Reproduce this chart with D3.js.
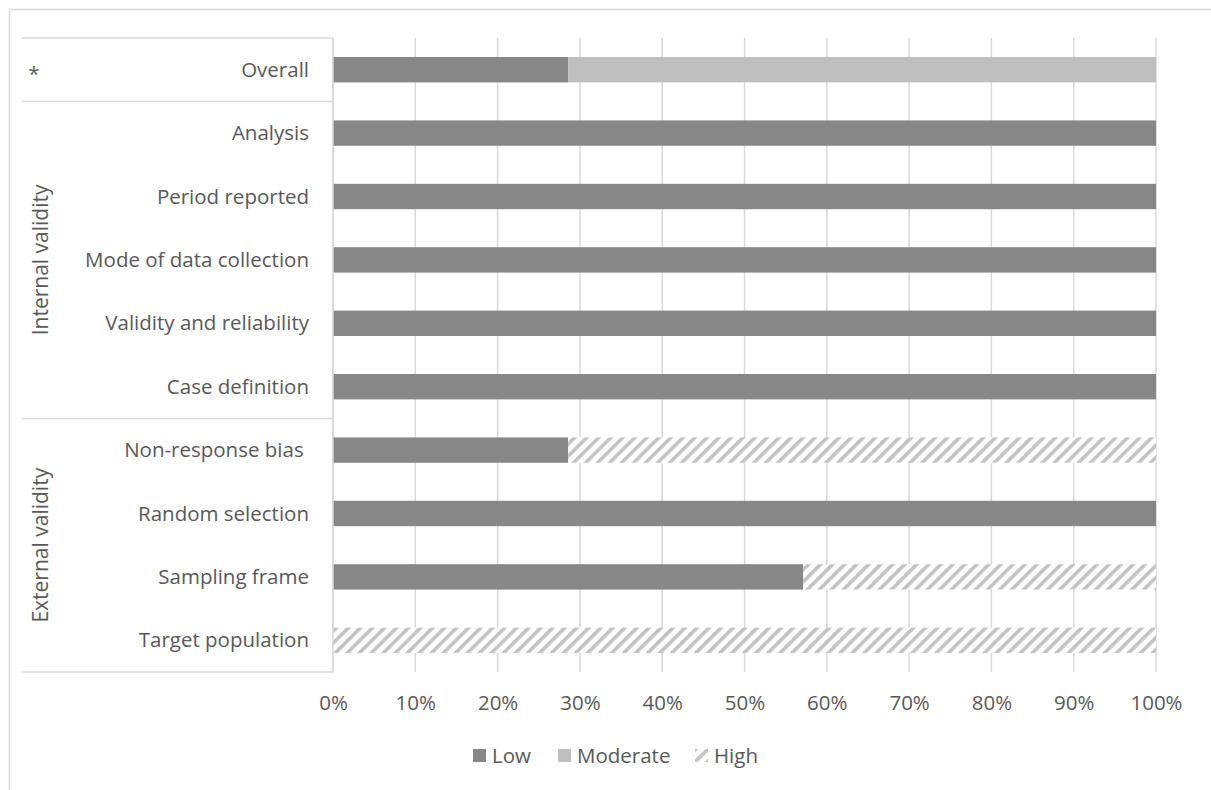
<!DOCTYPE html>
<html>
<head>
<meta charset="utf-8">
<script src="https://cdn.jsdelivr.net/npm/d3@7"></script>
<style>
  html, body { margin: 0; padding: 0; background: #fff; }
  svg text { font-family: "Open Sans", "Noto Sans", sans-serif; fill: #595959; }
</style>
</head>
<body>
<svg id="chart" width="1211" height="790"></svg>
<script>
// ---- data ----
const categories = ["Overall", "Analysis", "Period reported", "Mode of data collection",
  "Validity and reliability", "Case definition", "Non-response bias ", "Random selection",
  "Sampling frame", "Target population"];
const seriesNames = ["Low", "Moderate", "High"];
const lowValues      = [28.57, 100, 100, 100, 100, 100, 28.57, 100, 57.14, 0];
const moderateValues = [71.43, 0, 0, 0, 0, 0, 0, 0, 0, 0];
const highValues     = [0, 0, 0, 0, 0, 0, 71.43, 0, 42.86, 100];
const xTicks = [0, 10, 20, 30, 40, 50, 60, 70, 80, 90, 100];
const groups = [
  { label: "*", from: "Overall", to: "Overall" },
  { label: "Internal validity", from: "Analysis", to: "Case definition" },
  { label: "External validity", from: "Non-response bias ", to: "Target population" }
];

// ---- layout ----
const svg = d3.select("#chart");
const plot = { left: 333, right: 1156, top: 38, bottom: 672 };
const x = d3.scaleLinear().domain([0, 100]).range([plot.left, plot.right]);
const y = d3.scaleBand().domain(categories).range([plot.top, plot.bottom]).paddingInner(0.6).paddingOuter(0.3);
const grid = "#d9d9d9";
const fs = 20.5;

// outer border
svg.append("rect").attr("x", 9.5).attr("y", 9.5).attr("width", 1240).attr("height", 820)
  .attr("fill", "none").attr("stroke", grid).attr("stroke-width", 1.5);

// hatch pattern
const defs = svg.append("defs");
const pat = defs.append("pattern").attr("id", "hatch").attr("patternUnits", "userSpaceOnUse")
  .attr("width", 8.5).attr("height", 8.5).attr("patternTransform", "rotate(45)");
pat.append("rect").attr("width", 8.5).attr("height", 8.5).attr("fill", "#fff");
pat.append("rect").attr("x", 0).attr("width", 3.6).attr("height", 8.5).attr("fill", "#c3c3c3");

// gridlines
svg.append("g").selectAll("line").data(xTicks).join("line")
  .attr("x1", d => x(d)).attr("x2", d => x(d))
  .attr("y1", plot.top).attr("y2", plot.bottom)
  .attr("stroke", grid).attr("stroke-width", 1.5);

// axis tick labels
const xAxis = d3.axisBottom(x).tickValues(xTicks).tickFormat(d => d + "%").tickSize(0).tickPadding(0);
const ax = svg.append("g").attr("transform", `translate(0,${plot.bottom})`).call(xAxis);
ax.select(".domain").remove();
ax.selectAll("text").attr("dy", null).attr("y", 38).attr("font-size", fs)
  .attr("font-family", null).attr("fill", "#595959");

// stacked bars
const rows = categories.map((c, i) => ({ cat: c, Low: lowValues[i], Moderate: moderateValues[i], High: highValues[i] }));
const stack = d3.stack().keys(seriesNames)(rows);
const fills = { Low: "#878787", Moderate: "#bfbfbf", High: "url(#hatch)" };
svg.append("g").selectAll("g").data(stack).join("g")
  .attr("fill", d => fills[d.key])
  .selectAll("rect").data(d => d.filter(p => p[1] - p[0] > 0)).join("rect")
  .attr("x", d => x(d[0])).attr("width", d => x(d[1]) - x(d[0]))
  .attr("y", d => y(d.data.cat)).attr("height", y.bandwidth());

// category labels
svg.append("g").selectAll("text").data(categories).join("text")
  .attr("x", 309).attr("y", d => y(d) + y.bandwidth() / 2)
  .attr("dy", "0.35em").attr("text-anchor", "end").attr("font-size", fs)
  .style("white-space", "pre").text(d => d);

// label table lines
const step = y.step();
const bandTop = c => y(c) - (step - y.bandwidth()) / 2;
const bandBottom = c => bandTop(c) + step;
const tbl = svg.append("g").attr("stroke", grid).attr("stroke-width", 1.5);
tbl.append("line").attr("x1", plot.left).attr("x2", plot.left).attr("y1", plot.top).attr("y2", plot.bottom);
const hLines = [plot.top].concat(groups.map(g => bandBottom(g.to)));
tbl.selectAll(".h").data(hLines).join("line").attr("class", "h")
  .attr("x1", 22).attr("x2", plot.left).attr("y1", d => d).attr("y2", d => d);

// group labels
groups.forEach((g, i) => {
  const yc = (bandTop(g.from) + bandBottom(g.to)) / 2;
  if (i === 0) {
    svg.append("text").attr("x", 34).attr("y", yc + 4).attr("dy", "0.35em")
      .attr("text-anchor", "middle").attr("font-size", fs).text(g.label);
  } else {
    svg.append("text").attr("transform", `translate(41,${yc}) rotate(-90)`)
      .attr("dy", "0.35em").attr("text-anchor", "middle").attr("font-size", 21).text(g.label);
  }
});

// legend
const legendItems = [
  { name: "Low", x: 473 }, { name: "Moderate", x: 558 }, { name: "High", x: 695 }
];
const lg = svg.append("g");
legendItems.forEach(it => {
  lg.append("rect").attr("x", it.x).attr("y", 749).attr("width", 13).attr("height", 13)
    .attr("fill", fills[it.name]);
  lg.append("text").attr("x", it.x + 19).attr("y", 756).attr("dy", "0.35em")
    .attr("font-size", fs).text(it.name);
});
</script>
</body>
</html>
